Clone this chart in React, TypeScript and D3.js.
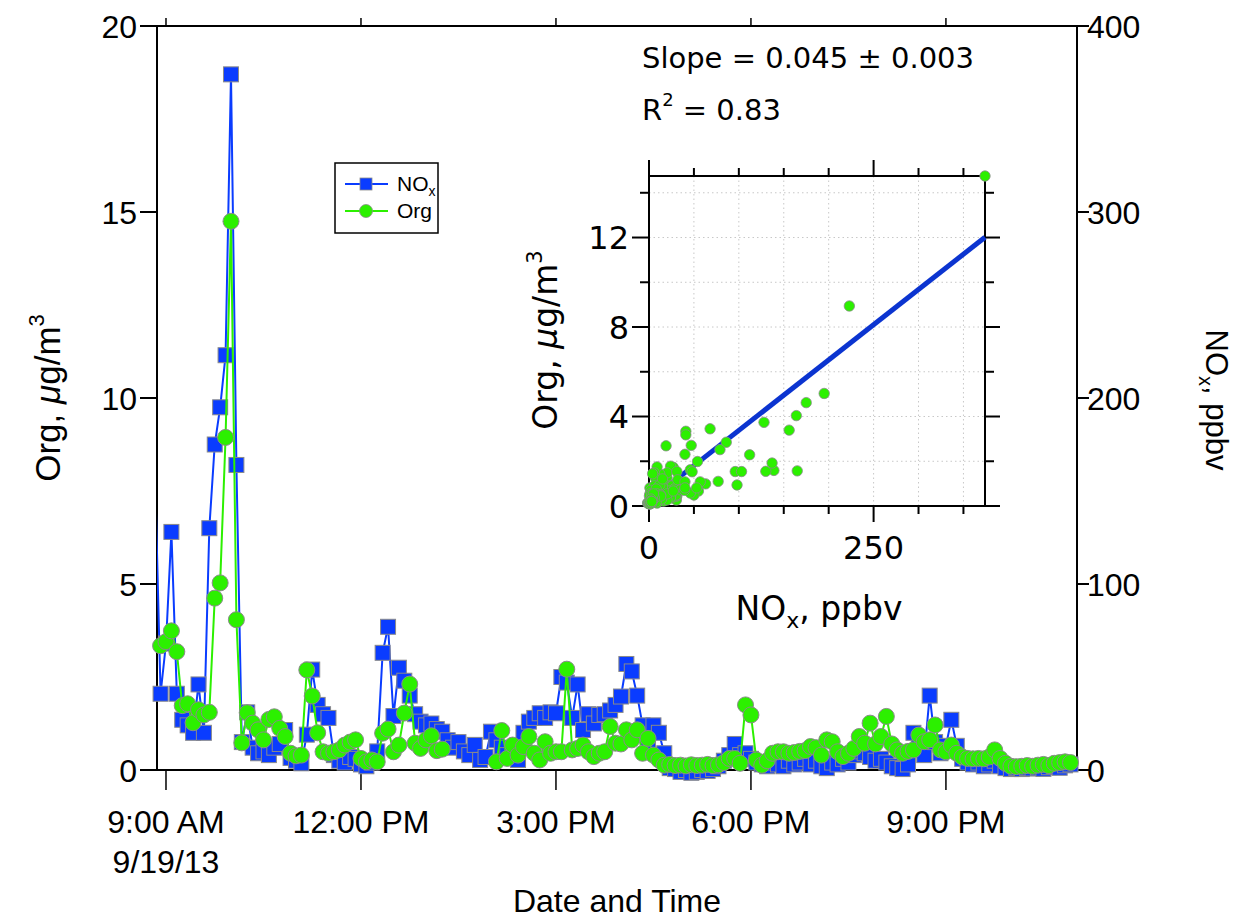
import React from 'react';
import * as d3 from 'd3';

// 5-minute samples, 9/19/13, first sample at 08:05 (the first few fall left of the plotted window)
const START = new Date(2013, 8, 19, 8, 5);
const STEP_MIN = 5;

const noxPpbv = [
  165, 139, 137, 112, 98, 96, 103, 86, 79, 156,
  41, 68, 128, 41, 27, 24, 20, 46, 20, 130, 175, 195, 223, 374, 164,
  15, 31, 12, 9, 10, 8, 12, 14, 21.5, 6.5, 5, 3.6, 19, 54, 35, 30,
  28, 8, 5, 4, 7, 6, 3, 2, 4, 10, 63, 77, 29, 55, 48, 40, 30, 26, 24, 25, 22, 20.6,
  16, 12, 15, 10, 8, 13.5, 5.4, 7, 20.6, 16,
  12, 8, 10, 5.4, 20, 26, 28, 30.5, 28, 31, 30.5, 50, 47, 28, 46, 21.5, 30, 25, 29.6, 30, 32, 35, 39.5, 57, 53, 40, 24, 15, 24, 20, 9,
  1, 0.5, -1, 0, -1.5, -1, 0, -0.5, 0.5, 2, 5, 8,
  14, 8, 9, 6, 4, 3, 2, 4, 3, 2, 5, 3, 4, 6, 3, 5, 2, 1, 4, 3, 6, 4, 8, 10, 9, 7, 5, 6, 4, 2, 1, 0.5, 3,
  20, 12, 8, 40, 15, 9, 13, 27, 13, 6, 4, 3, 4, 2, 3, 5, 2, 1, 0.5, 1, 0.5, 1, 0.8, 1.2, 0.6, 1.5, 2, 1.2, 2.5, 3,
];

const orgUgm3: (number | null)[] = [
  1.57, 1.59, 1.92, 2.29, 0.94, 1.54, 1.54, 2.85, 2.52, 3.39,
  3.34, 3.45, 3.74, 3.18, 1.73, 1.78, 1.27, 1.62, 1.48, 1.55, 4.62, 5.03, 8.94, 14.75, 4.04,
  0.73, 1.54, 1.26, 1.08, 0.81, 1.36, 1.43, 1.12, 0.9, 0.45, 0.38, 0.4, 2.69, 1.99, 1.0, 0.49,
  0.45, 0.49, 0.54, 0.67, 0.75, 0.81, 0.31, 0.22, 0.27, 0.22, 0.99, 1.1, 0.49, 0.67, 1.53, 2.31, 0.72, 0.58, 0.81, 0.92, 0.52, 0.56,
  null, null, null, null, null, null, null, null, null, 0.22,
  1.06, 0.31, 0.67, 0.4, 0.63, 0.9, 0.45, 0.27, 0.76, 0.45, 0.49, 0.49, 2.71, 0.54, 0.58, 0.67, 0.49, 0.36, 0.45, 0.49, 1.17, 0.72, 0.7, 1.08, 0.81, 1.08, 0.45, 0.85, 0.4, 0.27, 0.13,
  0.15, 0.12, 0.13, 0.11, 0.14, 0.12, 0.13, 0.15, 0.12, 0.14, 0.2, 0.31,
  0.31, 0.18, 1.75, 1.48, 0.27, 0.13, 0.25, 0.45, 0.49, 0.49, 0.45, 0.47, 0.5, 0.52, 0.63, 0.6, 0.4, 0.81, 0.76, 0.49, 0.36, 0.45, 0.58, 0.9, 0.72, 1.26, 0.7, 0.9, 1.44, 0.7, 0.54, 0.45, 0.5,
  0.54, 0.94, 0.76, 0.81, 1.21, 0.54, 0.49, 0.67, 0.45, 0.35, 0.31, 0.3, 0.31, 0.3, 0.35, 0.54, 0.31, 0.18, 0.1, 0.09, 0.1, 0.12, 0.1, 0.13, 0.15, 0.12, 0.18, 0.2, 0.22, 0.2,
];

const timeTickHours = [9, 12, 15, 18, 21];
const orgTicks = [0, 5, 10, 15, 20];
const noxTicks = [0, 100, 200, 300, 400];
const insetXMajor = [0, 250];
const insetXMinor = [50, 100, 150, 200, 300, 350];
const insetYMajor = [0, 4, 8, 12];
const insetYMinor = [2, 6, 10, 14];

// fitted line as drawn in the inset
const fitIntercept = 0.23;
const fitSlope = 0.0315;
const slopeLabel = '0.045 ± 0.003';
const r2Label = '0.83';

const BLUE = '#0a3cff';
const GREEN = '#2cf000';
const MAIN_FONT = '"Liberation Sans", Arial, sans-serif';
const INSET_FONT = '"DejaVu Sans", Verdana, sans-serif';

const M = { left: 157, right: 1077, top: 26, bottom: 770 };
const I = { left: 649, right: 985, top: 176, bottom: 506 };

type Row = { t: Date; nox: number; org: number | null };

export default function App() {
  const rows: Row[] = noxPpbv.map((v, i) => ({
    t: d3.timeMinute.offset(START, i * STEP_MIN),
    nox: v,
    org: orgUgm3[i],
  }));

  const x = d3.scaleTime()
    .domain([new Date(2013, 8, 19, 8, 51, 42), new Date(2013, 8, 19, 23, 1)])
    .range([M.left, M.right]);
  const yOrg = d3.scaleLinear().domain([0, 20]).range([M.bottom, M.top]);
  const yNox = d3.scaleLinear().domain([0, 400]).range([M.bottom, M.top]);

  const visible = rows.filter(d => x(d.t) >= M.left && x(d.t) <= M.right);

  const noxLine = d3.line<Row>().x(d => x(d.t)).y(d => yNox(d.nox));
  const orgLine = d3.line<Row>()
    .defined(d => d.org != null)
    .x(d => x(d.t))
    .y(d => yOrg(d.org as number));

  const fmtTime = d3.timeFormat('%-I:%M %p');
  const fmtDate = d3.timeFormat('%-m/%-d/%y');
  const timeTicks = timeTickHours.map(h => new Date(2013, 8, 19, h));

  // inset scatter
  const pairs = rows.filter(d => d.org != null);
  const xs = d3.scaleLinear().domain([0, d3.max(pairs, d => d.nox) as number]).range([I.left, I.right]);
  const ys = d3.scaleLinear().domain([0, d3.max(pairs, d => d.org as number) as number]).range([I.bottom, I.top]);
  const fitX = xs.domain();

  const sq = 15;

  return (
    <svg width={1240} height={923} style={{ position: 'absolute', left: 0, top: 0, background: '#fff' }}>
      <defs>
        <clipPath id="mainClip">
          <rect x={M.left} y={0} width={M.right - M.left} height={923} />
        </clipPath>
      </defs>

      {/* main frame */}
      <g stroke="#000" strokeWidth={2} fill="none">
        <line x1={M.left} y1={M.top} x2={M.left} y2={M.bottom} />
        <line x1={M.right} y1={M.top} x2={M.right} y2={M.bottom} />
        <line x1={M.left} y1={M.top} x2={M.right} y2={M.top} />
        <line x1={M.left} y1={M.bottom} x2={M.right} y2={M.bottom} />
      </g>

      {/* axes */}
      <g fontFamily={MAIN_FONT} fontSize={32}>
        {orgTicks.map(v => (
          <g key={'o' + v}>
            <line x1={M.left - 17} x2={M.left} y1={yOrg(v)} y2={yOrg(v)} stroke="#000" strokeWidth={2} />
            <text x={M.left - 20} y={yOrg(v)} dy="0.36em" textAnchor="end">{v}</text>
          </g>
        ))}
        {noxTicks.map(v => (
          <g key={'n' + v}>
            <line x1={M.right} x2={M.right + 12} y1={yNox(v)} y2={yNox(v)} stroke="#000" strokeWidth={2} />
            <text x={M.right + 10} y={yNox(v)} dy="0.36em" textAnchor="start">{v}</text>
          </g>
        ))}
        {timeTicks.map((t, i) => (
          <g key={'t' + i}>
            <line x1={x(t)} x2={x(t)} y1={M.bottom} y2={M.bottom + 20} stroke="#000" strokeWidth={1.5} />
            <line x1={x(t)} x2={x(t)} y1={M.top - 8} y2={M.top} stroke="#000" strokeWidth={1.5} />
            <text x={x(t)} y={833} textAnchor="middle">{fmtTime(t)}</text>
            {i === 0 && <text x={x(t)} y={873} textAnchor="middle">{fmtDate(t)}</text>}
          </g>
        ))}
        <text x={617} y={912} textAnchor="middle" fontSize={32}>Date and Time</text>
        <text transform="translate(60,398) rotate(-90)" textAnchor="middle" fontSize={35}>
          Org, <tspan fontStyle="italic">μ</tspan>g/m<tspan dy={-16} fontSize={22}>3</tspan>
        </text>
        <text transform="translate(1206,400) rotate(90)" textAnchor="middle" fontSize={31}>
          NO<tspan dy={7} fontSize={20}>x</tspan><tspan dy={-7}>, ppbv</tspan>
        </text>
      </g>

      {/* series */}
      <g clipPath="url(#mainClip)">
        <path d={noxLine(rows) || ''} fill="none" stroke={BLUE} strokeWidth={2} />
      </g>
      {visible.map((d, i) => (
        <rect key={'s' + i} x={x(d.t) - sq / 2} y={yNox(d.nox) - sq / 2} width={sq} height={sq}
          fill={BLUE} stroke="#8a8a8a" strokeWidth={1} />
      ))}
      <g clipPath="url(#mainClip)">
        <path d={orgLine(rows) || ''} fill="none" stroke={GREEN} strokeWidth={2} />
      </g>
      {visible.filter(d => d.org != null).map((d, i) => (
        <circle key={'c' + i} cx={x(d.t)} cy={yOrg(d.org as number)} r={8}
          fill={GREEN} stroke="#8a8a8a" strokeWidth={1} />
      ))}

      {/* legend */}
      <g fontFamily={MAIN_FONT} fontSize={21}>
        <rect x={335} y={163} width={103} height={70} fill="#fff" stroke="#000" strokeWidth={1.5} />
        <line x1={345} x2={388} y1={184} y2={184} stroke={BLUE} strokeWidth={2} />
        <rect x={360} y={178} width={12} height={12} fill={BLUE} stroke="#8a8a8a" strokeWidth={0.8} />
        <text x={397} y={191}>NO<tspan dy={5} fontSize={14}>x</tspan></text>
        <line x1={345} x2={388} y1={211} y2={211} stroke={GREEN} strokeWidth={2} />
        <circle cx={366} cy={211} r={6.5} fill={GREEN} stroke="#8a8a8a" strokeWidth={0.8} />
        <text x={397} y={218}>Org</text>
      </g>

      {/* fit statistics */}
      <g fontFamily={INSET_FONT} fontSize={29}>
        <text x={642} y={68}>Slope = {slopeLabel}</text>
        <text x={642} y={120}>R<tspan dy={-14} fontSize={18}>2</tspan><tspan dy={14}> = {r2Label}</tspan></text>
      </g>

      {/* inset */}
      <g>
        <g stroke="#c8c8c8" strokeWidth={1} strokeDasharray="1.5,3">
          {[...insetXMajor, ...insetXMinor].filter(v => v > 0).map(v => (
            <line key={'gx' + v} x1={xs(v)} x2={xs(v)} y1={I.top} y2={I.bottom} />
          ))}
          {[...insetYMajor, ...insetYMinor].filter(v => v > 0).map(v => (
            <line key={'gy' + v} x1={I.left} x2={I.right} y1={ys(v)} y2={ys(v)} />
          ))}
        </g>
        <g stroke="#000" strokeWidth={2}>
          <rect x={I.left} y={I.top} width={I.right - I.left} height={I.bottom - I.top} fill="none" />
          {insetXMajor.map(v => (
            <g key={'xM' + v}>
              <line x1={xs(v)} x2={xs(v)} y1={I.bottom} y2={I.bottom + 16} />
              <line x1={xs(v)} x2={xs(v)} y1={I.top - 16} y2={I.top} />
            </g>
          ))}
          {insetXMinor.map(v => (
            <g key={'xm' + v}>
              <line x1={xs(v)} x2={xs(v)} y1={I.bottom} y2={I.bottom + 8} />
              <line x1={xs(v)} x2={xs(v)} y1={I.top - 8} y2={I.top} />
            </g>
          ))}
          {insetYMajor.map(v => (
            <g key={'yM' + v}>
              <line x1={I.left - 17} x2={I.left} y1={ys(v)} y2={ys(v)} />
              <line x1={I.right} x2={I.right + 15} y1={ys(v)} y2={ys(v)} />
            </g>
          ))}
          {insetYMinor.map(v => (
            <g key={'ym' + v}>
              <line x1={I.left - 9} x2={I.left} y1={ys(v)} y2={ys(v)} />
              <line x1={I.right} x2={I.right + 9} y1={ys(v)} y2={ys(v)} />
            </g>
          ))}
        </g>
        <line x1={xs(fitX[0])} y1={ys(fitIntercept + fitSlope * fitX[0])}
          x2={xs(fitX[1])} y2={ys(fitIntercept + fitSlope * fitX[1])}
          stroke="#0b34d0" strokeWidth={5} />
        {pairs.map((d, i) => (
          <circle key={'p' + i} cx={xs(d.nox)} cy={ys(d.org as number)} r={5.2}
            fill={GREEN} stroke="#8a8a8a" strokeWidth={0.8} />
        ))}
        <g fontFamily={INSET_FONT} fontSize={32}>
          {insetYMajor.map(v => (
            <text key={'yl' + v} x={I.left - 20} y={ys(v)} dy="0.36em" textAnchor="end">{v}</text>
          ))}
          {insetXMajor.map(v => (
            <text key={'xl' + v} x={xs(v)} y={559} textAnchor="middle">{v}</text>
          ))}
          <text x={819} y={620} textAnchor="middle" fontSize={33}>
            NO<tspan dy={8} fontSize={22}>x</tspan><tspan dy={-8}>, ppbv</tspan>
          </text>
          <text transform="translate(557,340) rotate(-90)" textAnchor="middle" fontSize={33}>
            Org, <tspan fontStyle="italic">μ</tspan>g/m<tspan dy={-15} fontSize={21}>3</tspan>
          </text>
        </g>
      </g>
    </svg>
  );
}
